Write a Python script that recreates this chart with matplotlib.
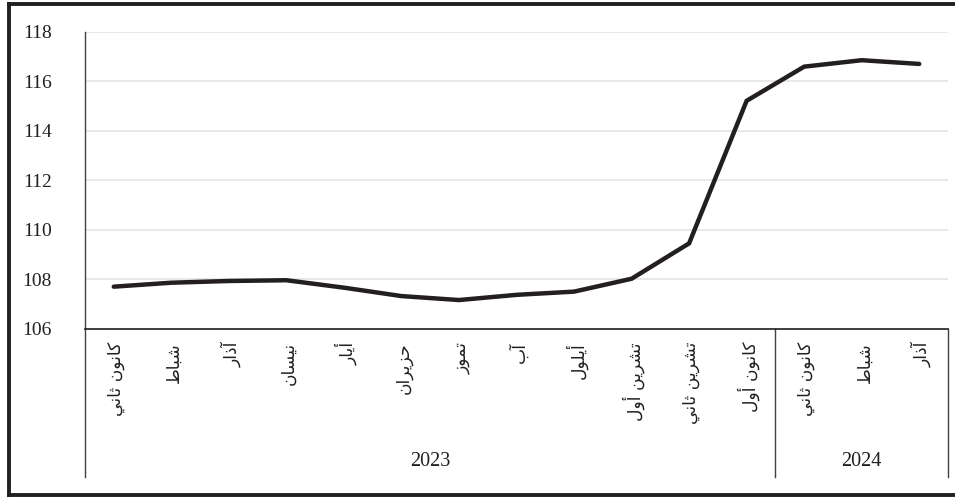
import matplotlib
matplotlib.use("Agg")
import matplotlib.pyplot as plt
from matplotlib.lines import Line2D
import matplotlib.transforms as mtransforms

# ---------------- data ----------------
months = ["كانون ثاني", "شباط", "آذار", "نيسان", "أيار", "حزيران", "تموز", "آب",
          "أيلول", "تشرين أول", "تشرين ثاني", "كانون أول",
          "كانون ثاني", "شباط", "آذار"]
years = ["2023", "2024"]
year_counts = [12, 3]
values = [107.71, 107.87, 107.94, 107.97, 107.67, 107.33, 107.17, 107.38,
          107.51, 108.03, 109.46, 115.22, 116.60, 116.86, 116.71]
y_ticks = [106, 108, 110, 112, 114, 116, 118]

# ------------- simple Arabic shaping (presentation forms) -------------
FORMS = {
    '\u0627': ('\uFE8D', '\uFE8E', None, None),
    '\u0623': ('\uFE83', '\uFE84', None, None),
    '\u0622': ('\uFE81', '\uFE82', None, None),
    '\u0628': ('\uFE8F', '\uFE90', '\uFE91', '\uFE92'),
    '\u062A': ('\uFE95', '\uFE96', '\uFE97', '\uFE98'),
    '\u062B': ('\uFE99', '\uFE9A', '\uFE9B', '\uFE9C'),
    '\u062D': ('\uFEA1', '\uFEA2', '\uFEA3', '\uFEA4'),
    '\u0630': ('\uFEAB', '\uFEAC', None, None),
    '\u0631': ('\uFEAD', '\uFEAE', None, None),
    '\u0632': ('\uFEAF', '\uFEB0', None, None),
    '\u0633': ('\uFEB1', '\uFEB2', '\uFEB3', '\uFEB4'),
    '\u0634': ('\uFEB5', '\uFEB6', '\uFEB7', '\uFEB8'),
    '\u0637': ('\uFEC1', '\uFEC2', '\uFEC3', '\uFEC4'),
    '\u0643': ('\uFED9', '\uFEDA', '\uFEDB', '\uFEDC'),
    '\u0644': ('\uFEDD', '\uFEDE', '\uFEDF', '\uFEE0'),
    '\u0645': ('\uFEE1', '\uFEE2', '\uFEE3', '\uFEE4'),
    '\u0646': ('\uFEE5', '\uFEE6', '\uFEE7', '\uFEE8'),
    '\u0648': ('\uFEED', '\uFEEE', None, None),
    '\u064A': ('\uFEF1', '\uFEF2', '\uFEF3', '\uFEF4'),
}


def shape(s):
    out = []
    for i, c in enumerate(s):
        if c not in FORMS:
            out.append(c)
            continue
        prev = s[i - 1] if i > 0 else None
        nxt = s[i + 1] if i + 1 < len(s) else None
        jp = prev in FORMS and FORMS[prev][2] is not None
        jn = FORMS[c][2] is not None and nxt in FORMS
        f = FORMS[c]
        if jp and jn:
            g = f[3]
        elif jp:
            g = f[1]
        elif jn:
            g = f[2]
        else:
            g = f[0]
        out.append(g)
    return ''.join(reversed(out))


# ---------------- figure ----------------
W, H = 955, 497
fig = plt.figure(figsize=(W / 100, H / 100), dpi=100)
fig.patch.set_facecolor("white")

left_px, right_px, top_px, bot_px = 85, 948, 32, 329
ax = fig.add_axes([left_px / W, 1 - bot_px / H,
                   (right_px - left_px) / W, (bot_px - top_px) / H])

x = list(range(len(values)))
ax.plot(x, values, color="#231f20", lw=3.2, solid_capstyle="round",
        solid_joinstyle="miter", zorder=3)

ax.set_xlim(-0.5, len(values) - 0.5)
ax.set_ylim(106, 118)
ax.set_yticks(y_ticks)
ax.set_yticklabels([str(t) for t in y_ticks], family="Liberation Serif",
                   fontsize=14, color="#231f20")
ax.tick_params(axis="y", length=0, pad=24)
ax.set_xticks([])
ax.grid(axis="y", color="#e1e1e1", lw=1.1, zorder=0)
ax.set_axisbelow(True)

for s in ["top", "right"]:
    ax.spines[s].set_visible(False)
ax.spines["left"].set_color("#404040")
ax.spines["left"].set_linewidth(1.0)
ax.spines["bottom"].set_color("#231f20")
ax.spines["bottom"].set_linewidth(1.2)

# month labels
trans = mtransforms.blended_transform_factory(ax.transData, fig.transFigure)
for i, m in enumerate(months):
    ax.text(i + 0.04, 1 - 342 / H, shape(m), transform=trans, rotation=90,
            ha="center", va="top", fontsize=12.3, family="DejaVu Sans",
            color="#231f20")

# group dividers and year labels
div_top = 1 - bot_px / H
div_bot = 1 - 477 / H
start = -0.5
bounds = [start]
for cnt in year_counts:
    bounds.append(bounds[-1] + cnt)
for b in bounds:
    ax.add_line(Line2D([b, b], [div_top, div_bot], transform=trans,
                       color="#404040", lw=1.0, clip_on=False))
for k, yr in enumerate(years):
    cx = (bounds[k] + bounds[k + 1]) / 2
    ax.text(cx, 1 - 462 / H, yr, transform=trans, ha="center", va="center",
            fontsize=14.5, family="Liberation Serif", color="#231f20")

# outer frame (right side runs off the image)
bc = "#231f20"
blw = 2.8
fig.add_artist(Line2D([9 / W, 1.01], [1 - 4 / H, 1 - 4 / H], color=bc, lw=blw,
                      transform=fig.transFigure))
fig.add_artist(Line2D([9 / W, 9 / W], [1 - 4 / H, 1 - 495 / H], color=bc, lw=blw,
                      transform=fig.transFigure))
fig.add_artist(Line2D([9 / W, 1.01], [1 - 495 / H, 1 - 495 / H], color=bc, lw=blw,
                      transform=fig.transFigure))

fig.savefig("out.png", dpi=100)
